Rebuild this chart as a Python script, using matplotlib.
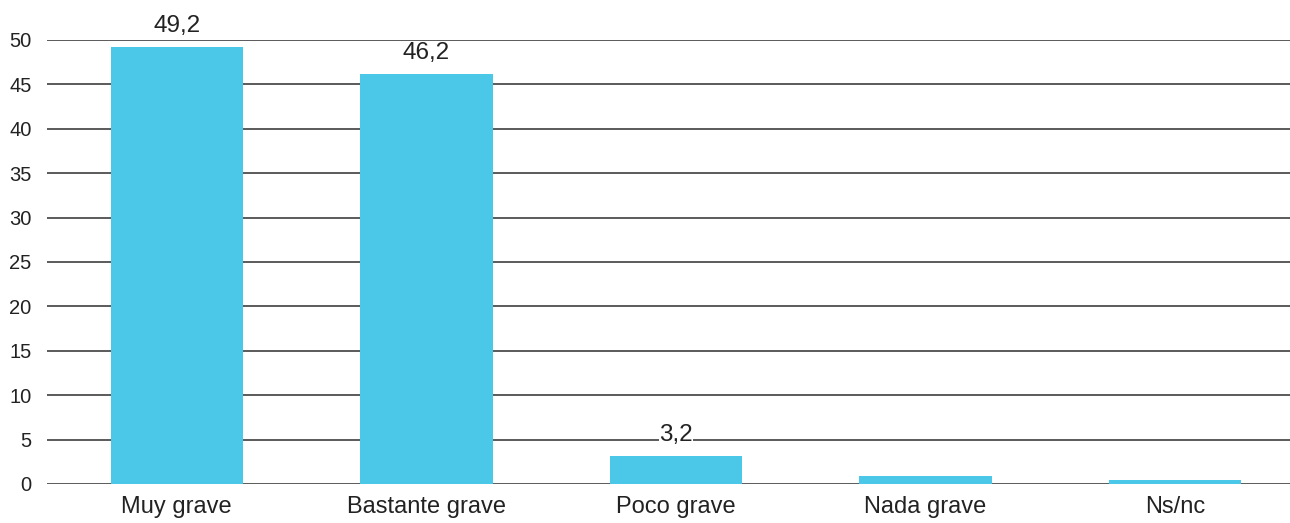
import matplotlib.pyplot as plt

# datos
categorias = ['Muy grave', 'Bastante grave', 'Poco grave', 'Nada grave', 'Ns/nc']
valores = [49.2, 46.2, 3.2, 0.9, 0.4]
etiquetas = ['49,2', '46,2', '3,2', '', '']
yticks = [0, 5, 10, 15, 20, 25, 30, 35, 40, 45, 50]

plt.rcParams['font.family'] = ['Liberation Sans', 'DejaVu Sans']

fig = plt.figure(figsize=(12.9, 5.23), dpi=100)
ax = fig.add_axes([0.0364, 0.0746, 0.9636, 0.849])

# gridlines
for y in yticks:
    ax.axhline(y, color='#2e2e2e', lw=1.1, zorder=1)

x = range(len(categorias))
bars = ax.bar(x, valores, width=0.53, color='#4BC8E8', zorder=2)

# etiquetas de valor
for b, t in zip(bars, etiquetas):
    if t:
        ax.annotate(t, (b.get_x() + b.get_width() / 2, b.get_height()),
                    xytext=(0, 7), textcoords='offset points',
                    ha='center', va='bottom', fontsize=17.5, color='#222222',
                    annotation_clip=False, zorder=3,
                    bbox=dict(facecolor='white', edgecolor='none', pad=0.3))

ax.set_xlim(-0.52, 4.46)
ax.set_ylim(0, 50)
ax.set_yticks(yticks)
ax.set_xticks(list(x))
ax.set_xticklabels(categorias, fontsize=17, color='#222222')
ax.tick_params(axis='y', length=0, pad=11, labelsize=14.5, labelcolor='#222222')
ax.tick_params(axis='x', length=0, pad=9)
for s in ax.spines.values():
    s.set_visible(False)

fig.savefig('out.png', dpi=100)
